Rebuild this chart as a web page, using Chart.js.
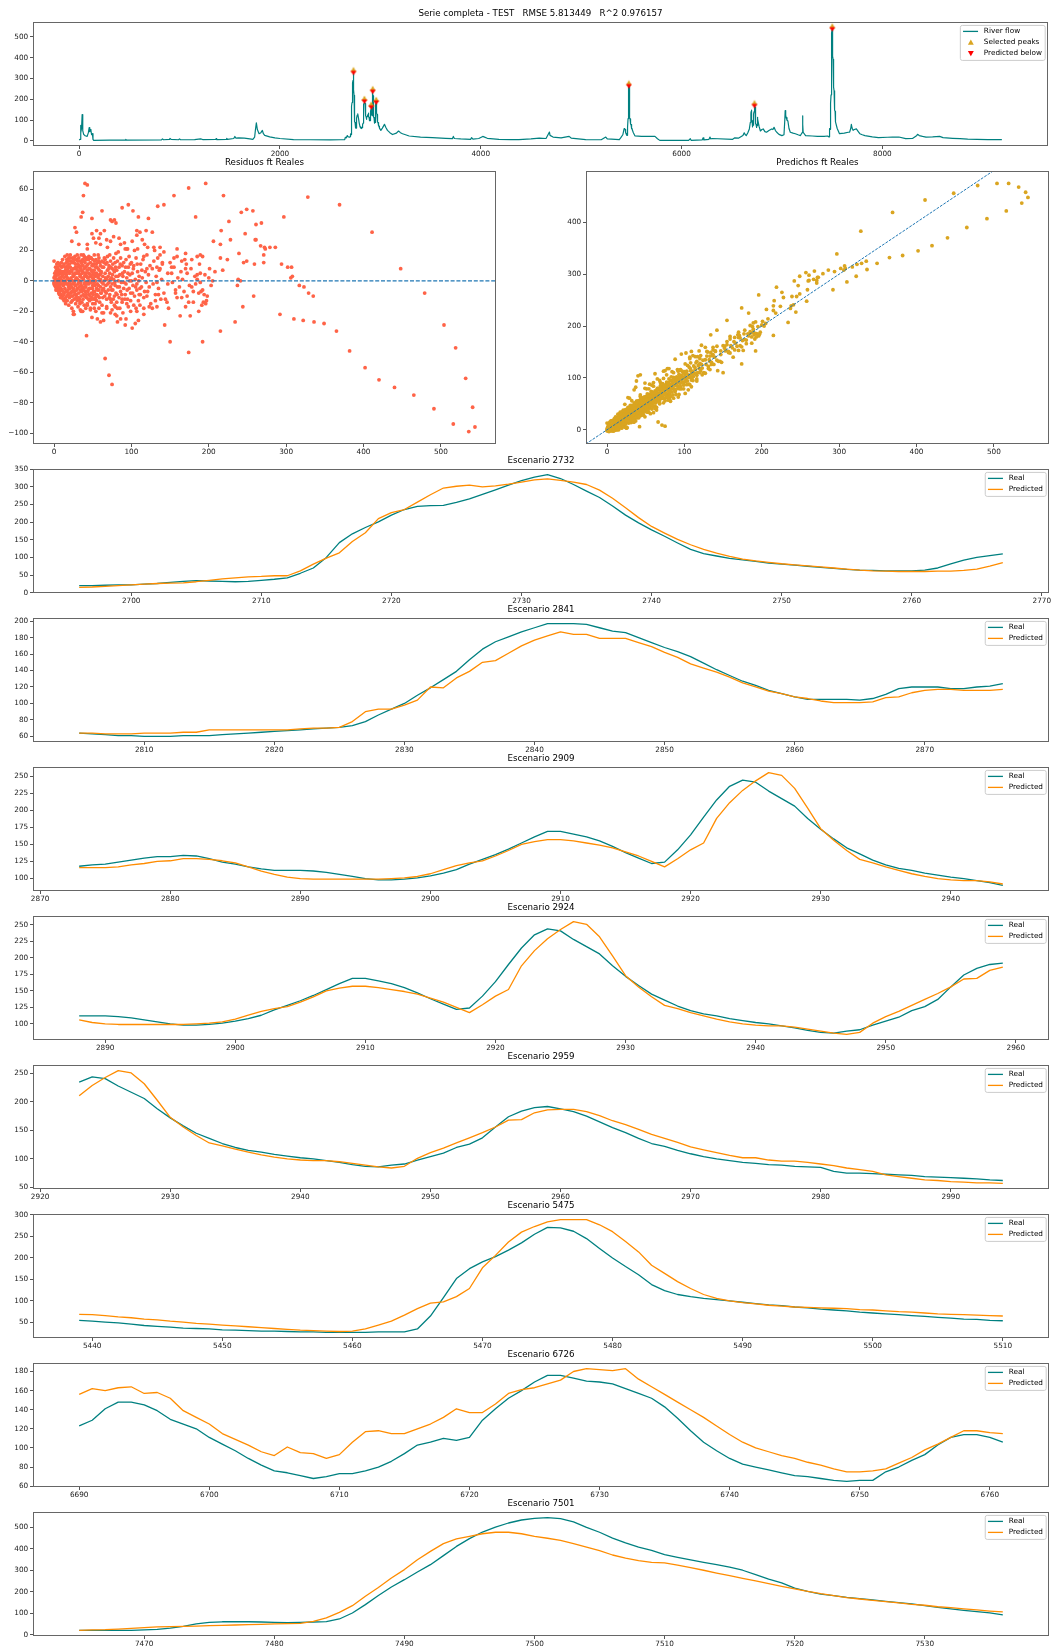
<!DOCTYPE html>
<html>
<head>
<meta charset="utf-8">
<script src="https://cdn.jsdelivr.net/npm/chart.js@4.4.1/dist/chart.umd.min.js"></script>
<style>
  body { margin: 0; background: #fff; }
  #fig { position: relative; width: 1053px; height: 1648px; background: #fff; }
  #fig canvas { position: absolute; }
</style>
</head>
<body>
<div id="fig"></div>
<script>
// ---- river flow, hand-read points outside the detailed windows ----
const flowSparse = [
  [0,5],[10,8],[14,75],[18,40],[24,60],[30,127],[36,50],[45,32],[60,25],[80,22],[92,40],[100,64],[106,45],[112,55],[118,50],[124,30],[132,35],[138,8],[145,3],
  [300,4],[460,4],[465,8],[470,4],[820,5],[830,10],[840,6],[900,8],[905,12],[915,8],[990,6],[1000,10],[1010,6],[1150,7],[1210,10],[1230,7],
  [1360,8],[1365,11],[1370,7],[1465,8],[1470,13],[1478,8],[1540,12],[1551,22],[1560,14],[1590,15],[1645,14],[1700,10],[1730,8],
  [1748,19],[1755,50],[1765,87],[1775,55],[1792,35],[1810,40],[1825,51],[1835,35],[1848,27],[1898,20],[1950,15],[2000,12],[2135,7],
  [2300,6],[2500,5],[2600,6],[2645,7],[2652,18],[2660,15],[2671,26],[2680,20],[2688,19],
  [2770,125],[2775,131],[2782,110],[2790,85],[2798,68],
  [3005,51],[3020,62],[3041,80],[3055,65],[3071,51],[3095,40],[3121,31],[3160,38],[3181,48],[3200,40],[3221,35],[3287,24],[3400,19],
  [3518,16],[3650,13],[3717,11],[3727,22],[3737,12],[3800,10],[3899,8],[3909,16],[3922,9],[3980,12],[4020,22],[4032,20],[4065,13],
  [4181,8],[4300,7],[4380,7],[4500,10],[4583,14],[4650,12],[4684,43],[4690,27],[4720,19],[4800,15],[4880,22],[4900,14],[5045,7],
  [5200,6],[5245,19],[5260,10],[5380,7],[5395,16],[5415,30],[5428,60],[5434,57],
  [5520,40],[5535,25],[5600,22],[5735,22],[5760,11],[5783,3],[6070,3],[6087,11],[6095,3],[6205,5],[6215,15],[6222,5],[6273,8],
  [6283,19],[6290,10],[6306,12],[6509,8],[6530,15],[6570,14],[6611,26],[6624,39],[6635,30],[6645,26],[6660,40],[6675,58],[6685,90],
  [6772,70],[6785,48],[6800,55],[6813,58],[6830,45],[6846,42],[6870,50],[6897,58],[6910,55],[6921,66],[6935,50],[6948,42],[6970,32],
  [6999,26],[7020,30],[7028,100],[7032,146],[7037,125],[7042,112],[7050,100],[7059,96],[7070,60],[7083,42],[7110,38],[7133,35],
  [7160,30],[7184,26],[7200,40],[7205,121],[7208,80],[7211,42],[7235,26],[7300,24],[7354,22],[7420,22],[7455,24],
  [7550,60],[7573,35],[7620,38],[7660,42],[7674,43],[7685,60],[7691,80],[7698,62],[7708,51],[7720,55],[7741,58],[7760,45],[7775,35],
  [7800,30],[7826,26],[7900,20],[7961,16],[8050,18],[8100,19],[8164,19],[8232,11],[8300,12],[8340,25],[8350,32],[8367,26],[8400,22],
  [8435,19],[8500,20],[8570,22],[8604,16],[8700,13],[8773,11],[8850,9],[8942,8],[9050,7],[9190,7]
];

// ---- daily windows: real and predicted flow ----
const startA = 2696;
const realA = [20,20,21,22,22,24,26,29,32,34, 33,32,31,32,35,38,42,55,70,100, 142,167,185,201,220,236,245,247,248,256,
  266,279,292,305,318,328,335,324,307,288, 270,246,220,198,178,160,141,123,111,104, 97,93,89,84,81,78,75,72,69,66,
  64,63,62,62,62,64,70,82,92,100, 105,110];
const predA = [15,16,18,20,22,24,26,27,28,31, 35,39,42,45,46,48,48,62,81,98, 113,145,170,210,227,236,257,278,297,302,
  305,300,303,308,314,320,323,319,314,307, 291,268,241,213,188,169,151,136,123,112, 103,95,90,86,82,79,76,73,70,67,
  64,62,61,60,60,60,61,61,63,67, 75,85];

const startB = 2805;
const realB = [64,63,62,61,61,60,60,60,61,61, 61,62,63,64,65,66,67,68,69,70, 71,73,78,86,93,100,110,119,129,139,
  153,166,175,181,187,192,197,197,197,196, 192,188,186,180,174,168,163,157,149,141, 134,127,122,116,112,108,105,105,105,105,
  104,106,111,118,120,120,120,118,118,120, 121,124,127,130,132,132,134,133,129,124, 121,117,114,112,112,112,111,109,106,103,
  100,98,98,99,101,104,108,113,121,128, 135,143,152,161,169,169,165,161,155,147, 138,130,122,124,142,164,190,215,235,244,
  241,228,217,206,188,172,158,145,136,127, 120,115,112,108,105,102,100,97,94,90, 87,86,89,91,98,104,110,120,126,137,
  156,174,184,190,192,188,183,175,165,155, 146,136,127,122,115,109,104,100,97,94, 92,90,89,87,86,85,78,75,75,74,
  73,72,71,69,68,67,66,65,63,62];
const predB = [64,64,63,63,63,64,64,64,65,65, 68,68,68,68,68,68,68,69,70,70, 71,78,90,93,93,98,104,120,119,131,
  139,150,152,161,170,177,182,187,184,184, 179,179,179,174,169,162,156,148,143,138, 132,125,120,115,112,108,106,103,101,101,
  101,102,107,108,113,116,117,117,116,116, 116,117,120,122,125,126,129,129,128,126, 123,117,111,106,102,100,99,99,99,99,
  99,99,100,101,103,107,113,119,123,126, 133,141,150,154,157,157,155,152,149,145, 139,133,125,117,129,142,152,188,211,229,
  243,255,251,232,203,173,156,141,128,123, 117,112,107,103,100,98,97,97,95,92, 89,86,84,87,101,111,119,128,137,146,
  156,168,169,181,186,187,187,183,176,167, 160,152,143,136,129,121,116,111,106,102, 102,98,96,96,94,91,88,84,81,78,
  72,69,66,63,62,60,59,58,58,57];

const startC = 5439;
const realC = [55,53,51,49,46,43,41,39,37,36, 35,33,32,31,30,30,29,28,28,27, 27,27,27,28,28,28,35,65,108,152,
  175,191,203,218,235,255,271,270,262,245, 222,200,180,161,138,124,115,110,106,103, 100,97,94,91,89,86,84,81,79,77,
  74,72,70,68,66,64,62,60,58,57, 55,54];
const predC = [69,68,66,63,61,58,56,53,51,48, 46,44,42,40,38,36,34,32,31,30, 29,30,35,44,53,67,82,95,98,110,
  129,177,206,237,260,273,284,289,289,289, 277,261,238,214,183,164,145,129,115,106, 100,96,93,90,88,86,85,84,83,82,
  80,79,77,75,74,72,70,69,68,67, 66,65];

const startD = 6690;
const realD = [123,129,141,148,148,145,139,130,125,120, 111,104,97,89,82,76,74,71,68,70, 73,73,76,80,86,94,103,106,110,108,
  111,129,141,152,160,169,176,176,173,170, 169,167,162,157,152,143,131,118,106,97, 89,83,80,77,74,71,70,68,66,65,
  66,66,75,80,87,93,103,111,114,114, 111,106];
const predD = [156,162,160,163,164,157,158,152,139,132, 125,115,109,103,96,92,101,95,94,89, 93,106,117,118,115,115,120,125,132,141,
  137,137,146,157,161,163,167,171,180,183, 182,181,183,172,164,156,148,140,132,123, 114,106,100,96,92,89,85,82,78,75,
  75,76,78,84,90,98,104,111,118,118, 116,115];

const startE = 7465;
const realE = [20,20,20,20,20,22,25,30,39,50, 57,60,60,60,59,57,56,57,59,61, 73,101,140,182,222,256,292,326,368,411,
  447,478,501,520,534,542,545,540,525,500, 477,450,427,408,393,373,360,348,337,326, 315,300,280,259,241,217,202,189,182,174,
  168,162,155,149,143,135,127,120,113,107, 101,92];
const predE = [20,22,23,26,29,33,36,37,39,40, 42,43,45,47,48,50,51,53,62,78, 104,135,179,220,264,303,349,388,424,446,
  458,470,477,477,470,458,449,439,424,408, 391,371,356,345,337,334,324,312,300,287, 275,262,250,238,225,213,202,191,182,172,
  166,160,154,148,141,137,130,126,120,115, 110,106];

// selected peaks, one scenario panel each
const scenarios = [2732, 2841, 2909, 2924, 2959, 5475, 6726, 7501];
const scenarioYStep = [50, 20, 25, 25, 50, 50, 20, 100];

// ---- (real, residual) pairs; predicted = real + residual ----
const residPoints = [
  [0,2],[0,-2],[1,5],[1,-3],[1,0],[2,9],[2,-4],[2,3],[3,-2],[3,7],[0,13],[1,-2],[2,-1],[3,1],[0,-1],[1,3],
  [4,-5],[4,4],[5,8],[5,-6],[5,0],[6,-3],[6,6],[6,-8],[7,2],[7,-7],[8,10],[8,-2],[8,5],[9,-9],[9,1],[9,-5],[4,-6],[7,-9],[5,12],[6,-5],
  [10,3],[10,-6],[10,9],[11,-10],[11,0],[11,14],[12,-3],[12,6],[12,-12],[13,2],[13,-8],[13,11],[14,-1],[14,-5],[14,16],[15,7],[15,-11],[15,-15],[15,0],[10,-11],[13,-13],
  [16,4],[16,-7],[16,12],[17,-2],[17,17],[17,-13],[18,8],[18,-9],[18,1],[19,-4],[19,15],[19,-16],[20,5],[20,-11],[20,11],[20,-1],[17,6],[18,-6],
  [21,-3],[21,9],[21,17],[22,-14],[22,2],[22,13],[23,-7],[23,6],[23,-18],[24,0],[24,15],[24,-10],[25,8],[25,-5],[25,3],[25,-22],[22,-8],[24,-2],
  [26,12],[26,-1],[26,-12],[27,5],[27,-7],[27,16],[28,-3],[28,9],[28,-15],[29,2],[29,14],[29,-9],[30,-5],[30,7],[30,17],[30,-13],[26,4],[28,1],
  [31,-2],[31,11],[31,-17],[32,6],[32,-8],[32,15],[33,0],[33,-12],[33,9],[34,4],[34,-6],[34,13],[35,-3],[35,17],[35,-10],[35,7],[32,-1],[34,-19],
  [36,2],[36,-14],[36,10],[37,-5],[37,14],[37,6],[38,-9],[38,1],[38,17],[39,-2],[39,8],[39,-16],[40,5],[40,-7],[40,12],[40,-1],[37,-20],[39,16],
  [41,-4],[41,9],[42,14],[42,-11],[42,3],[43,-1],[43,7],[43,-15],[44,11],[44,-6],[44,2],[45,16],[45,-9],[45,5],[45,-2],[41,-18],[43,15],
  [46,0],[46,-13],[46,8],[47,12],[47,-5],[47,3],[48,-8],[48,15],[48,-1],[49,6],[49,-11],[49,10],[50,-3],[50,14],[50,-15],[50,4],[47,-18],[49,-24],
  [51,1],[51,-7],[51,11],[52,-12],[52,7],[52,17],[53,-3],[53,3],[54,9],[54,-9],[54,14],[55,-5],[55,5],[55,-13],[52,-1],[54,-20],
  [56,12],[56,-2],[57,8],[57,-10],[57,2],[58,-6],[58,15],[59,4],[59,-14],[60,10],[60,-4],[60,1],[58,-18],[57,17],
  [61,-8],[61,6],[62,13],[62,-1],[63,3],[63,-11],[64,9],[64,-5],[65,15],[65,0],[62,-16],[64,-21],
  [66,-7],[66,5],[67,11],[67,-3],[68,1],[68,-12],[69,7],[69,16],[70,-6],[70,3],[68,-17],[66,14],
  [71,-1],[71,10],[72,5],[72,-9],[73,13],[73,-4],[74,2],[74,-14],[75,8],[75,-2],[72,17],[75,-19],
  [76,11],[76,-6],[77,1],[77,15],[78,-10],[78,6],[79,-3],[79,12],[80,3],[80,-8],[78,-16],[80,18],
  [81,7],[82,-4],[82,13],[83,0],[84,-11],[84,9],[85,4],[86,-7],[86,15],[87,-1],[88,10],[88,-14],[89,3],[90,-5],[90,12],[83,19],[85,-18],[89,-21],
  [91,6],[92,-9],[93,14],[93,-2],[94,2],[95,-12],[96,9],[97,-5],[97,16],[98,4],[99,-8],[100,12],[100,0],[94,21],[96,-17],[99,-20],
  [101,5],[102,-3],[103,10],[104,-10],[105,1],[106,15],[107,-6],[108,6],[109,-13],[110,3],[104,20],[106,-18],[110,-9],
  [112,11],[113,-4],[114,2],[115,14],[116,-11],[118,6],[119,-1],[120,17],[121,-7],[122,4],[124,10],[125,-15],[117,24],[123,-4],
  [127,8],[128,-2],[129,13],[131,-9],[132,3],[134,15],[135,-5],[136,7],[138,-12],[139,1],[140,11],[133,-1],[137,22],
  [2.5,6],[2.5,-6],[3.5,11],[3.5,-4],[4.5,1],[4.5,9],[5.5,-2],[5.5,4],[6.5,11],[6.5,-1],[7.5,7],[7.5,-4],[8.5,0],[8.5,-11],[9.5,5],
  [9.5,12],[10.5,-2],[10.5,6],[11.5,-7],[11.5,4],[12.5,10],[12.5,-9],[13.5,-2],[13.5,5],[14.5,9],[14.5,-13],[15.5,3],[15.5,-7],
  [16.5,-10],[16.5,14],[17.5,2],[17.5,10],[18.5,-3],[18.5,13],[19.5,6],[19.5,-8],[20.5,-5],[20.5,15],[21.5,1],[21.5,-10],[22.5,7],
  [22.5,-4],[23.5,12],[23.5,-13],[24.5,4],[24.5,-7],[25.5,14],[25.5,-1],[26.5,8],[26.5,-9],[27.5,-3],[27.5,11],[28.5,5],[28.5,-11],
  [29.5,-6],[29.5,9],[30.5,1],[30.5,13],[31.5,-11],[31.5,5],[32.5,10],[32.5,-4],[33.5,-15],[33.5,3],[34.5,8],[34.5,-1],[35.5,12],
  [35.5,-7],[36.5,5],[36.5,-4],[37.5,-12],[37.5,10],[38.5,-6],[38.5,13],[39.5,3],[39.5,-10],[40.5,-4],[40.5,15],[41.5,5],[41.5,-9],
  [42.5,10],[42.5,-2],[43.5,-7],[43.5,2],[44.5,14],[44.5,-12],[45.5,8],[45.5,-5],[46.5,4],[46.5,-10],[47.5,-1],[47.5,15],[48.5,7],
  [48.5,-12],[49.5,-5],[49.5,2],[50.5,10],[50.5,-9],[51.5,-3],[51.5,5],[52.5,13],[52.5,-7],[53.5,0],[53.5,-11],[54.5,4],[54.5,11],
  [55.5,-9],[55.5,9],[56.5,3],[56.5,-6],[57.5,13],[57.5,-3],[58.5,7],[58.5,-11],[59.5,0],[59.5,12],[60.5,-8],[60.5,5],[62.5,9],
  [62.5,-6],[63.5,-2],[64.5,12],[65.5,-10],[66.5,2],[67.5,-8],[68.5,12],[69.5,-2],[70.5,8],[71.5,-11],[72.5,1],[73.5,9],[74.5,-6],
  [75.5,4],[76.5,-12],[77.5,7],[78.5,-1],[79.5,9],[81.5,-9],[82.5,3],[84.5,-4],[85.5,11],[87.5,-9],[88.5,5],[90.5,-1],[91.5,-12],
  [92.5,9],[94.5,-6],[95.5,5],[97.5,0],[98.5,11],[101.5,-8],[102.5,8],[105.5,-4],[107.5,11],[109.5,0],[111.5,-9],[113.5,7],
  [23,26],[32,24],[43,21],[54,25],[58,28],[65,33],[68,27],[69,22],[77,29],[86,24],[91,25],[95,21],[101,26],[107,30],[108,21],
  [114,27],[119,33],[121,22],[111,32],[107,33],[92,21],[84,28],[73,26],[60,31],[51,28],
  [35,-20],[47,-19],[52,-18],[68,-18],[81,-14],[82,-18],[88,-12],[94,-15],[99,-13],[103,-16],[111,-16],[116,-18],[107,-20],[82,-27],[93,-25],[86,-25],
  [172,5],[170,8],[155,9],[152,5],[153,-1],[147,-2],[142,-8],[146,-14],[148,-18],[135,-9],[131,-13],[133,-17],[123,-17],[120,-10],
  [117,-7],[111,-5],[107,-2],[157,-6],[159,-11],[170,-17],[174,-14],[178,-4],[182,3],[185,4],[189,5],[194,-9],[196,-15],[190,-7],
  [160,2],[162,-4],[164,6],[166,1],[175,-3],[177,8],[183,-2],[185,1],[195,4],[200,2],[203,-3],[208,6],[157,-8],[147,5],[144,-12],
  [152,9],[170,18],[178,14],[185,16],[189,17],[192,16],
  [40,64],[43,63],[38,56],[37,45],[35,42],[27,35],[29,32],[62,46],[49,41],[43,24],[49,31],[55,33],[60,24],[73,40],[75,39],[78,40],
  [80,38],[88,48],[96,50],[102,46],[109,42],[122,41],[134,49],[142,50],[155,56],[174,61],[196,64],[183,42],[219,56],[206,26],
  [216,33],[226,39],[228,27],[215,24],[242,45],[249,47],[257,46],[247,31],[261,37],[268,38],[261,27],[272,22],[279,22],[286,22],
  [297,42],[294,11],[307,9],[306,2],[328,55],[369,50],[411,32],[448,8],[479,-8],[504,-29],[519,-44],[532,-64],[541,-83],[544,-96],
  [536,-99],[516,-94],[491,-84],[465,-75],[440,-70],[420,-65],[402,-57],[382,-46],[365,-33],[349,-28],[336,-27],[322,-26],[310,-25],
  [292,-22],[335,-10],[329,-8],[323,-4],[317,-3],[258,-10],[244,-17],[234,-27],[215,-33],[192,-40],[174,-47],[150,-40],[143,-29],
  [127,-18],[101,-31],[92,-29],[105,-28],[109,-26],[116,-22],[42,-36],[66,-51],[71,-62],[75,-68],[26,-22],[25,-20],[34,-14],
  [43,-16],[62,-21],[79,-17],[79,-22],[81,-23],[73,-21],[56,-25],[60,-27],[64,-26],[53,-15],[73,-12],[163,-23],[176,-23],[187,-20],
  [191,-16],[193,-14],[198,-10],[197,-13],[180,-14],[172,-10],[168,-7],[165,-11],[180,-7],[187,-8],[192,-6],[189,-1],[188,11],
  [165,13],[171,11],[169,14],[159,21],[159,16],[155,15],[150,12],[142,19],[137,17],[140,12],[130,20],[127,32],[129,22],[116,16],
  [120,8],[133,9],[137,8],[201,8],[205,0],[215,15],[218,7],[224,14],[239,18],[238,1],[237,-3],[241,0],[245,12],[249,13],[259,11],
  [260,27],[267,23],[271,17],[271,12],[273,21],[302,9],[308,3]
];

// ---- style ----
const FONT = "'DejaVu Sans', 'Liberation Sans', sans-serif";
const TEAL = '#008080', ORANGE = '#ff8c00', TOMATO = '#ff6347', GOLD = '#daa520', TAB_BLUE = '#1f77b4';
const LEFT = 33, RIGHT = 1049, PAD_R = 4, TITLE_SPACE = 16, XAXIS_SPACE = 16;
const SCEN_TOP = 469, SCEN_STEP = 149, SCEN_H = 124;

Chart.defaults.font.family = FONT;
Chart.defaults.font.size = 7.3;
Chart.defaults.color = '#1a1a1a';

const segments = [
  { start: startA, real: realA, pred: predA },
  { start: startB, real: realB, pred: predB },
  { start: startC, real: realC, pred: predC },
  { start: startD, real: realD, pred: predD },
  { start: startE, real: realE, pred: predE },
];

// peak markers: up triangle sits just above the point, down triangle just below
function peakMarker(color, up) {
  const c = document.createElement('canvas');
  c.width = 12; c.height = 12;
  const g = c.getContext('2d');
  g.fillStyle = color;
  g.beginPath();
  if (up) { g.moveTo(6, 1.6); g.lineTo(3.1, 6.8); g.lineTo(8.9, 6.8); }
  else { g.moveTo(3.1, 5.6); g.lineTo(8.9, 5.6); g.lineTo(6, 9.9); }
  g.closePath();
  g.fill();
  return c;
}

// box around every axes
const axFrame = {
  id: 'axFrame',
  afterDraw(chart) {
    const { ctx, chartArea: a } = chart;
    const l = Math.round(a.left) + 0.5, t = Math.round(a.top) + 0.5;
    const r = Math.round(a.right) - 0.5, b = Math.round(a.bottom) - 0.5;
    ctx.save();
    ctx.strokeStyle = '#666';
    ctx.lineWidth = 1;
    ctx.strokeRect(l, t, r - l, b - t);
    ctx.restore();
  }
};

// title centred over the axes, not the canvas
const axTitle = {
  id: 'axTitle',
  afterDraw(chart, args, opts) {
    if (!opts.text) return;
    const { ctx, chartArea: a } = chart;
    ctx.save();
    ctx.font = '8.7px ' + FONT;
    ctx.fillStyle = '#000';
    ctx.textAlign = 'center';
    ctx.textBaseline = 'middle';
    ctx.fillText(opts.text, (a.left + a.right) / 2, a.top - 8);
    ctx.restore();
  }
};

// dashed y=0 line or y=x diagonal
const refLine = {
  id: 'refLine',
  afterDatasetsDraw(chart, args, opts) {
    if (!opts.kind) return;
    const { ctx, chartArea: a, scales: { x, y } } = chart;
    ctx.save();
    ctx.beginPath();
    ctx.rect(a.left, a.top, a.width, a.height);
    ctx.clip();
    ctx.strokeStyle = TAB_BLUE;
    ctx.lineWidth = opts.width;
    ctx.setLineDash(opts.dash);
    ctx.beginPath();
    if (opts.kind === 'zero') {
      const py = y.getPixelForValue(0);
      ctx.moveTo(a.left, py);
      ctx.lineTo(a.right, py);
    } else {
      const lo = Math.min(x.min, y.min), hi = Math.max(x.max, y.max);
      ctx.moveTo(x.getPixelForValue(lo), y.getPixelForValue(lo));
      ctx.lineTo(x.getPixelForValue(hi), y.getPixelForValue(hi));
    }
    ctx.stroke();
    ctx.restore();
  }
};

// matplotlib-like legend box in the upper right corner
const boxLegend = {
  id: 'boxLegend',
  afterDraw(chart, args, opts) {
    if (!opts.show) return;
    const { ctx, chartArea: a } = chart;
    const items = chart.data.datasets.filter(d => d.label);
    ctx.save();
    ctx.font = '7.3px ' + FONT;
    const tw = Math.max(...items.map(d => ctx.measureText(d.label).width));
    const w = 23.5 + tw + 3.2, h = 6 + (items.length - 1) * 11 + 7;
    const bx = a.right - 2.8 - w, by = a.top + 3.4;
    ctx.beginPath();
    ctx.roundRect(bx, by, w, h, 2);
    ctx.fillStyle = 'rgba(255,255,255,0.8)';
    ctx.fill();
    ctx.strokeStyle = '#cccccc';
    ctx.lineWidth = 1;
    ctx.stroke();
    items.forEach((d, i) => {
      const cy = by + 6 + i * 11;
      if (d.legendMarker) {
        ctx.fillStyle = d.legendMarker.color;
        Chart.helpers.drawPoint(ctx, { pointStyle: 'triangle', rotation: d.legendMarker.rotation, radius: 3.4, borderWidth: 0 }, bx + 10.5, cy + (d.legendMarker.rotation ? -0.6 : 0.6));
      } else {
        ctx.strokeStyle = d.borderColor;
        ctx.lineWidth = 1.3;
        ctx.beginPath();
        ctx.moveTo(bx + 2.7, cy);
        ctx.lineTo(bx + 17.7, cy);
        ctx.stroke();
      }
      ctx.fillStyle = '#000';
      ctx.textAlign = 'left';
      ctx.textBaseline = 'middle';
      ctx.fillText(d.label, bx + 23.5, cy);
    });
    ctx.restore();
  }
};

Chart.register(axFrame, axTitle, refLine, boxLegend);

const fig = document.getElementById('fig');

function makeCanvas(frame, yWidth) {
  const left = frame.l - yWidth, top = frame.t - TITLE_SPACE;
  const width = frame.r + PAD_R - left, height = TITLE_SPACE + frame.h + XAXIS_SPACE;
  const c = document.createElement('canvas');
  c.width = width; c.height = height;
  c.style.left = left + 'px'; c.style.top = top + 'px';
  c.style.width = width + 'px'; c.style.height = height + 'px';
  fig.appendChild(c);
  return c;
}

function padded(vals) {
  const lo = Math.min(...vals), hi = Math.max(...vals), m = (hi - lo) * 0.05;
  return [lo - m, hi + m];
}

function stepTicks(step) {
  return axis => {
    const out = [];
    for (let v = Math.ceil(axis.min / step - 1e-9) * step; v <= axis.max + 1e-9; v += step) out.push({ value: v });
    axis.ticks = out;
  };
}

const tickLabel = v => (v < 0 ? '\u2212' + Math.abs(v) : String(v));

function axis(range, step, horizontal, yWidth) {
  return {
    type: 'linear',
    min: range[0],
    max: range[1],
    grid: { display: true, drawOnChartArea: false, drawTicks: true, tickLength: 3, color: '#555', lineWidth: 1 },
    border: { display: false },
    ticks: {
      padding: horizontal ? 1.1 : 1.8,
      autoSkip: false, maxRotation: 0, minRotation: 0,
      color: '#1a1a1a',
      font: { size: 7.3, family: FONT },
      callback: tickLabel,
    },
    afterBuildTicks: stepTicks(step),
    afterFit: horizontal
      ? s => { s.height = XAXIS_SPACE; s.paddingLeft = 0; s.paddingRight = 0; }
      : s => { s.width = yWidth; s.paddingTop = 0; s.paddingBottom = 0; },
  };
}

function options(title, xr, xs, yr, ys, yWidth, extra) {
  return {
    responsive: false,
    animation: false,
    devicePixelRatio: 1,
    events: [],
    layout: { padding: { top: TITLE_SPACE, right: PAD_R, left: 0, bottom: 0 } },
    plugins: Object.assign({
      legend: { display: false },
      tooltip: { enabled: false },
      axTitle: { text: title },
    }, extra || {}),
    scales: { x: axis(xr, xs, true), y: axis(yr, ys, false, yWidth) },
  };
}

function lineSet(label, data, color, order) {
  return { label, data, borderColor: color, backgroundColor: color, borderWidth: 1.3, pointRadius: 0,
           fill: false, tension: 0, borderJoinStyle: 'round', order };
}

// ---- full test series with peak markers ----
function flowSeries() {
  const pts = flowSparse.map(([x, y]) => ({ x, y }));
  segments.forEach(s => s.real.forEach((y, i) => pts.push({ x: s.start + i, y })));
  return pts.sort((p, q) => p.x - q.x);
}

function realAt(x) {
  const s = segments.find(g => x >= g.start && x < g.start + g.real.length);
  return s.real[x - s.start];
}

(function topPanel() {
  const flow = flowSeries();
  const peaks = scenarios.map(x => ({ x, y: realAt(x) }));
  const frame = { l: LEFT, r: RIGHT, t: 22, h: 124 };
  const canvas = makeCanvas(frame, LEFT);
  const xr = padded(flow.map(p => p.x)), yr = padded(flow.map(p => p.y));
  new Chart(canvas, {
    type: 'line',
    data: { datasets: [
      Object.assign(lineSet('River flow', flow, TEAL, 3), { borderWidth: 1.2 }),
      { label: 'Selected peaks', data: peaks, showLine: false, pointStyle: peakMarker(GOLD, true), pointRadius: 3,
        legendMarker: { color: GOLD, rotation: 0 }, order: 2 },
      { label: 'Predicted below', data: peaks, showLine: false, pointStyle: peakMarker('#ff0000', false), pointRadius: 3,
        legendMarker: { color: '#ff0000', rotation: 180 }, order: 1 },
    ]},
    options: options('Serie completa - TEST   RMSE 5.813449   R^2 0.976157', xr, 2000, yr, 100, LEFT,
      { boxLegend: { show: true } }),
  });
})();

// ---- residuals and predicted vs real ----
(function scatterPanels() {
  const resid = residPoints.map(([x, r]) => ({ x, y: r }));
  const pred = residPoints.map(([x, r]) => ({ x, y: x + r }));
  const xr = padded(resid.map(p => p.x));

  const left = makeCanvas({ l: LEFT, r: 496, t: 171, h: 273 }, LEFT);
  new Chart(left, {
    type: 'scatter',
    data: { datasets: [{ data: resid, pointRadius: 1.9, pointBackgroundColor: TOMATO, pointBorderWidth: 0 }] },
    options: options('Residuos ft Reales', xr, 100, padded(resid.map(p => p.y)), 20, LEFT,
      { refLine: { kind: 'zero', width: 1.1, dash: [4, 1.8] } }),
  });

  const right = makeCanvas({ l: 586, r: RIGHT, t: 171, h: 273 }, 40);
  new Chart(right, {
    type: 'scatter',
    data: { datasets: [{ data: pred, pointRadius: 1.9, pointBackgroundColor: GOLD, pointBorderWidth: 0 }] },
    options: options('Predichos ft Reales', xr, 100, padded(pred.map(p => p.y)), 100, 40,
      { refLine: { kind: 'diag', width: 1, dash: [2.8, 1.3] } }),
  });
})();

// ---- one panel per selected peak ----
function windowSeries(peak, key) {
  const s = segments.find(g => peak >= g.start && peak < g.start + g.real.length);
  const from = peak - 36 - s.start;
  return s[key].slice(from, from + 72).map((y, i) => ({ x: peak - 36 + i, y }));
}

scenarios.forEach((peak, k) => {
  const real = windowSeries(peak, 'real'), pred = windowSeries(peak, 'pred');
  const frame = { l: LEFT, r: RIGHT, t: SCEN_TOP + k * SCEN_STEP, h: SCEN_H };
  const canvas = makeCanvas(frame, LEFT);
  const xr = padded([real[0].x, real[real.length - 1].x]);
  const yr = padded(real.concat(pred).map(p => p.y));
  new Chart(canvas, {
    type: 'line',
    data: { datasets: [lineSet('Real', real, TEAL, 2), lineSet('Predicted', pred, ORANGE, 1)] },
    options: options('Escenario ' + peak, xr, 10, yr, scenarioYStep[k], LEFT, { boxLegend: { show: true } }),
  });
});
</script>
</body>
</html>
